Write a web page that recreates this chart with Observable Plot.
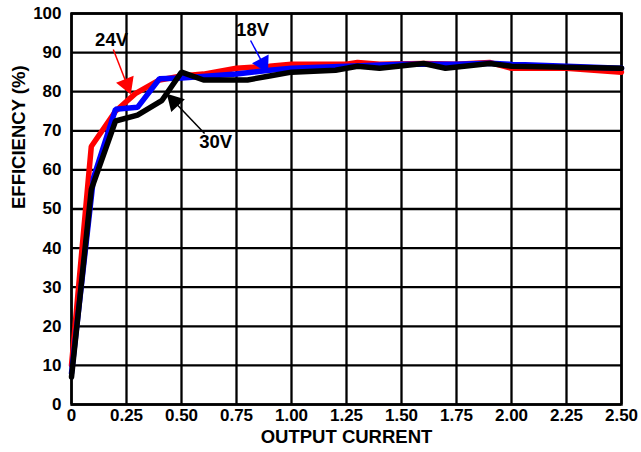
<!DOCTYPE html>
<html>
<head>
<meta charset="utf-8">
<script src="https://cdn.jsdelivr.net/npm/d3@7"></script>
<script src="https://cdn.jsdelivr.net/npm/@observablehq/plot@0.6"></script>
<style>
  html, body { margin: 0; padding: 0; background: #fff; }
</style>
</head>
<body>
<div id="chart"></div>
<script>
// ---- Data ----
const xTicks = [0, 0.25, 0.5, 0.75, 1.0, 1.25, 1.5, 1.75, 2.0, 2.25, 2.5];
const xTickLabels = ["0", "0.25", "0.50", "0.75", "1.00", "1.25", "1.50", "1.75", "2.00", "2.25", "2.50"];
const yTicks = [0, 10, 20, 30, 40, 50, 60, 70, 80, 90, 100];

const current24 = [0, 0.09, 0.2, 0.29, 0.4, 0.5, 0.6, 0.75, 0.9, 1.0, 1.25, 1.3, 1.4, 1.6, 1.75, 1.9, 2.0, 2.25, 2.5];
const eff24     = [10, 66, 75, 79.5, 83, 84, 84.5, 86, 86.5, 87, 87, 87.5, 87, 87.2, 87, 87.5, 86, 86, 85];

const current18 = [0, 0.1, 0.2, 0.3, 0.4, 0.5, 0.75, 0.9, 1.0, 1.25, 1.5, 1.75, 1.9, 2.0, 2.25, 2.5];
const eff18     = [8, 58, 75.5, 76, 83.3, 83.5, 84.5, 85.5, 86, 86.5, 87, 87, 87.3, 87, 86.5, 86];

const current30 = [0, 0.09, 0.2, 0.3, 0.41, 0.5, 0.6, 0.8, 0.9, 1.0, 1.2, 1.3, 1.4, 1.6, 1.7, 1.9, 2.0, 2.5];
const eff30     = [7, 55, 72.5, 74, 77.7, 85, 83, 83, 84, 85, 85.5, 86.5, 86, 87.2, 86, 87.2, 86.5, 86];

const seriesNames  = ["24V", "18V", "30V"];
const seriesColors = ["#ff0000", "#0000ff", "#000000"];

// annotation labels and arrows (data units)
const labelX = [0.182, 0.823, 0.655];
const labelY = [93.1, 95.7, 67.0];
const arrowTailX = [0.19, 0.814, 0.605];
const arrowTailY = [90.8, 93.1, 69.3];
const arrowTipX  = [0.268, 0.891, 0.436];
const arrowTipY  = [79.5, 84.9, 79.3];

// ---- Build tables ----
const W = 641, H = 452;
const mL = 71, mR = 20, mT = 13, mB = 48;
const xs = d3.scaleLinear([0, 2.5], [mL, W - mR]);
const ys = d3.scaleLinear([0, 100], [H - mB, mT]);

const toRows = (xa, ya, name) => xa.map((x, i) => ({current: x, eff: ya[i], series: name}));
const lines = [
  toRows(current24, eff24, "24V"),
  toRows(current18, eff18, "18V"),
  toRows(current30, eff30, "30V")
];

const labels = seriesNames.map((s, i) => ({text: s, x: labelX[i], y: labelY[i]}));
const arrows = seriesNames.map((s, i) => {
  const px1 = xs(arrowTailX[i]), py1 = ys(arrowTailY[i]);
  const px2 = xs(arrowTipX[i]),  py2 = ys(arrowTipY[i]);
  const dx = px2 - px1, dy = py2 - py1;
  const len = Math.hypot(dx, dy);
  const back = 10;
  const cx = px2 - dx / len * back, cy = py2 - dy / len * back;
  return {
    x1: arrowTailX[i], y1: arrowTailY[i],
    x2: xs.invert(cx), y2: ys.invert(cy),
    hx: xs.invert(cx), hy: ys.invert(cy),
    rot: Math.atan2(dx, -dy) * 180 / Math.PI,
    color: seriesColors[i]
  };
});

const chart = Plot.plot({
  width: W,
  height: H,
  marginLeft: mL,
  marginRight: mR,
  marginTop: mT,
  marginBottom: mB,
  style: {fontFamily: "'Liberation Sans', Arial, sans-serif", fontWeight: "bold", background: "#fff", color: "#000"},
  x: {domain: [0, 2.5]},
  y: {domain: [0, 100]},
  marks: [
    Plot.gridX(xTicks, {stroke: "#000", strokeOpacity: 1, strokeWidth: 2.3}),
    Plot.gridY(yTicks, {stroke: "#000", strokeOpacity: 1, strokeWidth: 2.3}),
    Plot.frame({stroke: "#000", strokeWidth: 2.5}),
    ...lines.map((rows, i) => Plot.line(rows, {x: "current", y: "eff", stroke: seriesColors[i], strokeWidth: 5.5, strokeLinejoin: "miter"})),
    Plot.axisX(xTicks, {tickSize: 0, tickPadding: 4, fontSize: 17, fontWeight: "bold", label: null,
      tickFormat: (d) => xTickLabels[xTicks.indexOf(d)]}),
    Plot.axisY(yTicks, {tickSize: 0, tickPadding: 10, fontSize: 17, fontWeight: "bold", label: null}),
    Plot.text(["OUTPUT CURRENT"], {frameAnchor: "bottom", dy: 38, fontSize: 18.5, fontWeight: "bold", fill: "#000"}),
    Plot.text(["EFFICIENCY (%)"], {frameAnchor: "left", dx: -52, rotate: -90, fontSize: 18.5, fontWeight: "bold", fill: "#000"}),
    Plot.link(arrows, {x1: "x1", y1: "y1", x2: "x2", y2: "y2", stroke: "color", strokeWidth: 1.5}),
    Plot.dot(arrows, {x: "hx", y: "hy", symbol: "triangle", r: 7, rotate: "rot", fill: "color", stroke: "none"}),
    Plot.text(labels, {x: "x", y: "y", text: "text", fontSize: 18.5, fontWeight: "bold", fill: "#000"})
  ]
});

document.getElementById("chart").appendChild(chart);
</script>
</body>
</html>
